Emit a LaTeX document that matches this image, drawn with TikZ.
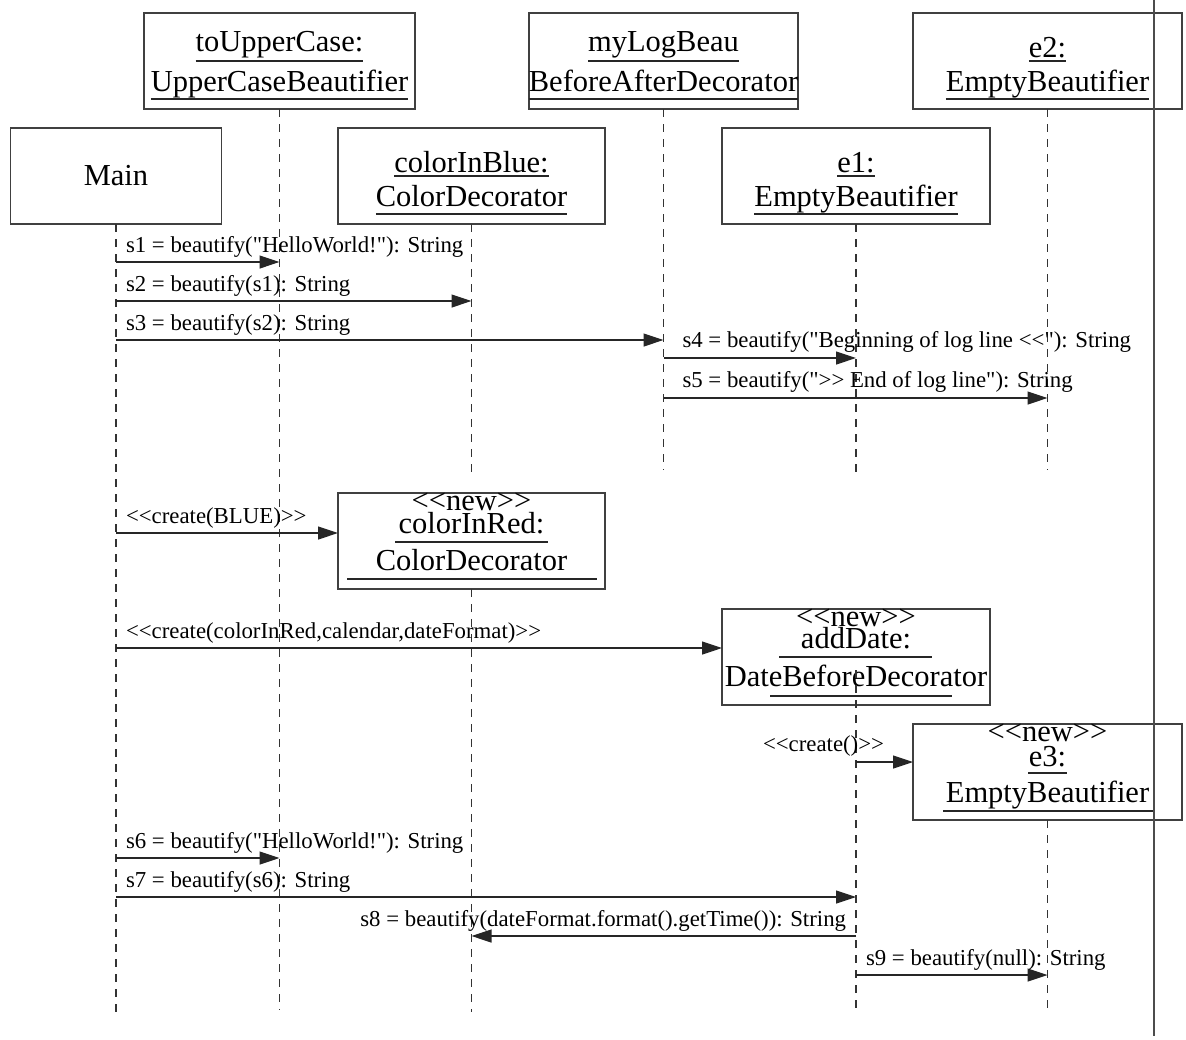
\documentclass[tikz,border=0pt]{standalone}
\usepackage{fontspec}
\setmainfont{Liberation Serif}[Ligatures=TeXOff]
\usetikzlibrary{arrows.meta}
\newcommand\lguil{<\kern0pt<}
\newcommand\rguil{>\kern0pt>}
\begin{document}
\begin{tikzpicture}[x=1pt,y=-1pt,
  objbox/.style={draw=black!75, line width=1.3pt, minimum height=96pt, inner sep=0pt, outer sep=0pt},
  big/.style={font=\fontsize{30.5}{36}\selectfont, inner sep=0pt, outer sep=0pt},
  lbl/.style={font=\fontsize{22.8}{27}\selectfont, inner sep=0pt, outer sep=0pt},
  ul/.style={draw=black!85, line width=1.2pt},
  msg/.style={draw=black!85, line width=1.2pt, -{Triangle[length=20pt,width=13pt]}},
  life/.style={draw=black!80, line width=1.1pt, dash pattern=on 8pt off 7pt},
  frameline/.style={draw=black!70, line width=1.8pt}
]
\fill[white] (0,0) rectangle (1186,1039);
\useasboundingbox (0,0) rectangle (1186,1039);

% ---------- object boxes ----------
\node[objbox, minimum width=271pt] (upper) at (279.5,61) {};
\node[objbox, minimum width=269pt] (log) at (663.5,61) {};
\node[objbox, minimum width=269pt] (e2) at (1047.5,61) {};
\node[objbox, minimum width=211pt] (main) at (116,176) {};
\node[objbox, minimum width=267pt] (blue) at (471.5,176) {};
\node[objbox, minimum width=268pt] (e1) at (856,176) {};
\node[objbox, minimum width=267pt] (red) at (471.5,541) {};
\node[objbox, minimum width=268pt] (adddate) at (856,657) {};
\node[objbox, minimum width=269pt] (e3) at (1047.5,772) {};

% ---------- box texts ----------
\node[big] (mainT) at (116,176) {Main};

\node[big, anchor=south] (upperA) at (279.5,58) {toUpperCase:};
\draw[ul] ([yshift=-3pt]upperA.south west) -- ([yshift=-3pt]upperA.south east);
\node[big, anchor=base] (upperB) at (279.5,91) {UpperCaseBeautifier};
\draw[ul] ([yshift=-8pt]upperB.base west) -- ([yshift=-8pt]upperB.base east);

\node[big, anchor=south] (logA) at (663.5,58) {myLogBeau};
\draw[ul] ([yshift=-3pt]logA.south west) -- ([yshift=-3pt]logA.south east);
\node[big, anchor=base] (logB) at (663.5,91) {BeforeAfterDecorator};
\draw[ul] ([yshift=-8pt]logB.base west) -- ([yshift=-8pt]logB.base east);

\node[big, anchor=south] (e2A) at (1047.5,58) {e2:};
\draw[ul] ([yshift=-3pt]e2A.south west) -- ([yshift=-3pt]e2A.south east);
\node[big, anchor=base] (e2B) at (1047.5,91) {EmptyBeautifier};
\draw[ul] ([yshift=-8pt]e2B.base west) -- ([yshift=-8pt]e2B.base east);

\node[big, anchor=south] (blueA) at (471.5,173) {colorInBlue:};
\draw[ul] ([yshift=-3pt]blueA.south west) -- ([yshift=-3pt]blueA.south east);
\node[big, anchor=base] (blueB) at (471.5,206) {ColorDecorator};
\draw[ul] ([yshift=-8pt]blueB.base west) -- ([yshift=-8pt]blueB.base east);

\node[big, anchor=south] (e1A) at (856,173) {e1:};
\draw[ul] ([yshift=-3pt]e1A.south west) -- ([yshift=-3pt]e1A.south east);
\node[big, anchor=base] (e1B) at (856,206) {EmptyBeautifier};
\draw[ul] ([yshift=-8pt]e1B.base west) -- ([yshift=-8pt]e1B.base east);

% new objects
\node[big, anchor=base] (redN) at (471.5,510) {\lguil new\rguil};
\node[big, anchor=base] (redA) at (471.5,533) {colorInRed:};
\draw[ul] (395,542) -- (548,542);
\node[big, anchor=base] (redB) at (471.5,570) {ColorDecorator};
\draw[ul] (347,579) -- (597,579);

\node[big, anchor=base] (addN) at (856,626) {\lguil new\rguil};
\node[big, anchor=base] (addA) at (856,648) {addDate:};
\draw[ul] (779,657) -- (932,657);
\node[big, anchor=base] (addB) at (856,686) {DateBeforeDecorator};
\draw[ul] (770,696) -- (952,696);

\node[big, anchor=base] (e3N) at (1047.5,741) {\lguil new\rguil};
\node[big, anchor=base] (e3A) at (1047.5,766) {e3:};
\draw[ul] (1028,773) -- (1067,773);
\node[big, anchor=base] (e3B) at (1047.5,802) {EmptyBeautifier};
\draw[ul] (943,811) -- (1153,811);

% ---------- lifelines ----------
\coordinate (mainEnd) at (116,1012);
\coordinate (upperEnd) at (279.5,1010);
\coordinate (blueEnd) at (471.5,474);
\coordinate (logEnd) at (663.5,470);
\coordinate (e1End) at (856,473);
\coordinate (e2End) at (1047.5,470);
\coordinate (redEnd) at (471.5,1012);
\coordinate (addStart) at (856,670);
\coordinate (addEnd) at (856,1012);
\coordinate (e3End) at (1047.5,1012);

\draw[life] (main.south) -- (mainEnd);
\draw[life] (upper.south) -- (upperEnd);
\draw[life] (blue.south) -- (blueEnd);
\draw[life] (log.south) -- (logEnd);
\draw[life] (e1.south) -- (e1End);
\draw[life] (e2.south) -- (e2End);
\draw[life] (red.south) -- (redEnd);
\draw[life] (addStart) -- (addEnd);
\draw[life] (e3.south) -- (e3End);

% ---------- messages ----------
\draw[msg] (main.south |- 0,262) -- (upper.south |- 0,262)
  node[lbl, pos=0, anchor=base west, xshift=10pt, yshift=10pt] (m1) {s1 = beautify("HelloWorld!"): String};
\draw[msg] (main.south |- 0,301) -- (blue.south |- 0,301)
  node[lbl, pos=0, anchor=base west, xshift=10pt, yshift=10pt] (m2) {s2 = beautify(s1): String};
\draw[msg] (main.south |- 0,340) -- (log.south |- 0,340)
  node[lbl, pos=0, anchor=base west, xshift=10pt, yshift=10pt] (m3) {s3 = beautify(s2): String};
\draw[msg] (log.south |- 0,358) -- (e1.south |- 0,358)
  node[lbl, pos=0, anchor=base west, xshift=19pt, yshift=11pt] (m4) {s4 = beautify("Beginning of log line \lguil"): String};
\draw[msg] (log.south |- 0,398) -- (e2.south |- 0,398)
  node[lbl, pos=0, anchor=base west, xshift=19pt, yshift=11pt] (m5) {s5 = beautify("\rguil{} End of log line"): String};
\draw[msg] (main.south |- 0,533) -- (red.west |- 0,533)
  node[lbl, pos=0, anchor=base west, xshift=10pt, yshift=10pt] (m6) {\lguil create(BLUE)\rguil};
\draw[msg] (main.south |- 0,648) -- (adddate.west |- 0,648)
  node[lbl, pos=0, anchor=base west, xshift=10pt, yshift=10pt] (m7) {\lguil create(colorInRed,calendar,dateFormat)\rguil};
\draw[msg] (addEnd |- 0,762) -- (e3.west |- 0,762)
  node[lbl, pos=0, anchor=base west, xshift=-93pt, yshift=11pt] (m8) {\lguil create()\rguil};
\draw[msg] (main.south |- 0,858) -- (upper.south |- 0,858)
  node[lbl, pos=0, anchor=base west, xshift=10pt, yshift=10pt] (m9) {s6 = beautify("HelloWorld!"): String};
\draw[msg] (main.south |- 0,897) -- (addEnd |- 0,897)
  node[lbl, pos=0, anchor=base west, xshift=10pt, yshift=10pt] (m10) {s7 = beautify(s6): String};
\draw[msg] (addEnd |- 0,936) -- (redEnd |- 0,936)
  node[lbl, pos=0, anchor=base east, xshift=-10pt, yshift=10pt] (m11) {s8 = beautify(dateFormat.format().getTime()): String};
\draw[msg] (addEnd |- 0,975) -- (e3End |- 0,975)
  node[lbl, pos=0, anchor=base west, xshift=10pt, yshift=10pt] (m12) {s9 = beautify(null): String};

% ---------- frame line ----------
\coordinate (vt) at (1154,0);
\coordinate (vb) at (1154,1036);
\draw[frameline] (vt) -- (vb);
\end{tikzpicture}
\end{document}
